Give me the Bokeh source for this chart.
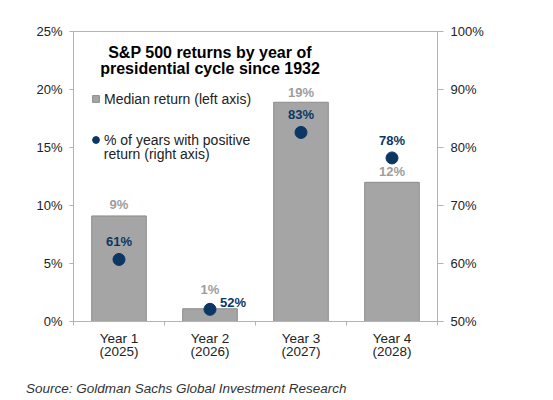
from bokeh.plotting import figure
from bokeh.layouts import column
from bokeh.models import (ColumnDataSource, Range1d, LinearAxis, FixedTicker,
                          Legend, LegendItem, Label, PrintfTickFormatter, Div)
from bokeh.embed import file_html
from bokeh.resources import INLINE

# ---- data ----
categories = ["Year 1\n(2025)", "Year 2\n(2026)", "Year 3\n(2027)", "Year 4\n(2028)"]
median_return = [9.1, 1.1, 18.9, 12.0]        # %, left axis
pct_positive = [60.7, 52.1, 82.6, 78.2]       # %, right axis
left_ticks = [0, 5, 10, 15, 20, 25]
right_ticks = [50, 60, 70, 80, 90, 100]
title_lines = ["S&P 500 returns by year of", "presidential cycle since 1932"]
legend_labels = ["Median return (left axis)", "% of years with positive", "return (right axis)"]
source_note = "Source: Goldman Sachs Global Investment Research"

# ---- styles ----
FONT = "Liberation Sans"
BAR_FILL = "#a5a5a5"
BAR_LINE = "#8c8c8c"
NAVY = "#0c3764"
LABEL_GRAY = "#9d9d9d"
AXIS_GRAY = "#b3b3b3"
TEXT = "#222222"
bar_label_offset = [-11.5, -19.5, -9.5, -10.5]
dot_label_dx = [0, 10, 0, 0]
dot_label_dy = [-17.5, -6.5, -17.5, -17]
dot_label_align = ["center", "left", "center", "center"]

xs = [i + 0.5 for i in range(len(categories))]
src = ColumnDataSource(dict(
    x=xs, ret=median_return, pos=pct_positive,
    ret_lbl=[f"{round(v)}%" for v in median_return],
    pos_lbl=[f"{round(v)}%" for v in pct_positive],
    bar_dy=bar_label_offset, dot_dx=dot_label_dx, dot_dy=dot_label_dy,
    dot_align=dot_label_align,
))

p = figure(width=540, height=380, output_backend="svg", toolbar_location=None,
           x_range=Range1d(0, len(categories)), y_range=Range1d(0, 25),
           min_border_left=73, min_border_right=103, min_border_top=31,
           min_border_bottom=59, margin=0)
p.extra_y_ranges = {"right": Range1d(50, 100)}
p.grid.visible = False
p.outline_line_color = AXIS_GRAY
p.background_fill_color = "white"
p.border_fill_color = "white"

# x axis
xa = p.xaxis[0]
xa.ticker = FixedTicker(ticks=xs, minor_ticks=list(range(len(categories) + 1)))
xa.major_label_overrides = {x: c for x, c in zip(xs, categories)}
xa.major_tick_out = 0
xa.major_tick_in = 0
xa.minor_tick_out = 4
xa.minor_tick_in = 0
xa.minor_tick_line_color = AXIS_GRAY
xa.axis_line_color = AXIS_GRAY
xa.major_label_standoff = 5
xa.major_label_text_font = FONT
xa.major_label_text_font_size = "13.5px"
xa.major_label_text_color = TEXT
xa.major_label_text_line_height = 0.9

# left axis
ya = p.yaxis[0]
ya.ticker = FixedTicker(ticks=left_ticks)
ya.formatter = PrintfTickFormatter(format="%d%%")
ya.major_tick_out = 4
ya.major_tick_in = 0
ya.minor_tick_line_color = None
ya.major_tick_line_color = AXIS_GRAY
ya.axis_line_color = AXIS_GRAY
ya.major_label_standoff = 7
ya.major_label_text_font = FONT
ya.major_label_text_font_size = "13px"
ya.major_label_text_color = TEXT

# right axis
ra = LinearAxis(y_range_name="right", ticker=FixedTicker(ticks=right_ticks),
                formatter=PrintfTickFormatter(format="%d%%"))
ra.major_tick_out = 6
ra.major_tick_in = 0
ra.minor_tick_line_color = None
ra.major_tick_line_color = AXIS_GRAY
ra.axis_line_color = AXIS_GRAY
ra.major_label_standoff = 7
ra.major_label_text_font = FONT
ra.major_label_text_font_size = "13px"
ra.major_label_text_color = TEXT
p.add_layout(ra, "right")

# bars
bars = p.vbar(x="x", top="ret", bottom=0, width=0.6, source=src,
              fill_color=BAR_FILL, line_color=BAR_LINE, line_width=1)
# dots
dots = p.scatter(x="x", y="pos", y_range_name="right", source=src, size=12,
                 marker="circle", fill_color=NAVY, line_color=NAVY)

# value labels
p.text(x="x", y="ret", text="ret_lbl", source=src, y_offset="bar_dy",
       text_align="center", text_baseline="alphabetic",
       text_font={"value": FONT}, text_font_size="13px", text_font_style="bold",
       text_color=LABEL_GRAY)
p.text(x="x", y="pos", text="pos_lbl", source=src, y_range_name="right",
       x_offset="dot_dx", y_offset="dot_dy", text_align="dot_align",
       text_baseline="alphabetic", text_font={"value": FONT},
       text_font_size="13px", text_font_style="bold", text_color=NAVY)

# title inside plot
for line, yy in zip(title_lines, [23.2, 21.77]):
    p.add_layout(Label(x=1.5, y=yy, text=line, text_align="center",
                       text_baseline="alphabetic", text_font=FONT,
                       text_font_size="16px", text_font_style="bold",
                       text_color="#000000"))

# legend
legend_sq = p.scatter(x=[float("nan")], y=[float("nan")], marker="square",
                      fill_color=BAR_FILL, line_color=BAR_LINE)
legend = Legend(items=[LegendItem(label=legend_labels[0], renderers=[legend_sq]),
                       LegendItem(label=legend_labels[1], renderers=[dots])],
                location=(14, 173), glyph_width=17, glyph_height=17,
                label_standoff=0, spacing=24, padding=0, margin=0,
                label_height=17, label_text_font=FONT,
                label_text_font_size="14px", label_text_color=TEXT,
                border_line_color=None, background_fill_alpha=0)
p.add_layout(legend)
# second line of the dots' legend entry
p.add_layout(Label(x=0.333, y=14.4, text=legend_labels[2], text_align="left",
                   text_baseline="alphabetic", text_font=FONT,
                   text_font_size="14px", text_color=TEXT))

# source note below the chart
note = Div(text=source_note, width=500, height=20, margin=(0, 0, 0, 26),
           styles={"font-family": FONT, "font-size": "13.5px",
                   "font-style": "italic", "color": "#333333",
                   "line-height": "18px", "white-space": "nowrap"})

layout = column(p, note, spacing=0)
open("out.html", "w").write(file_html(layout, INLINE))
